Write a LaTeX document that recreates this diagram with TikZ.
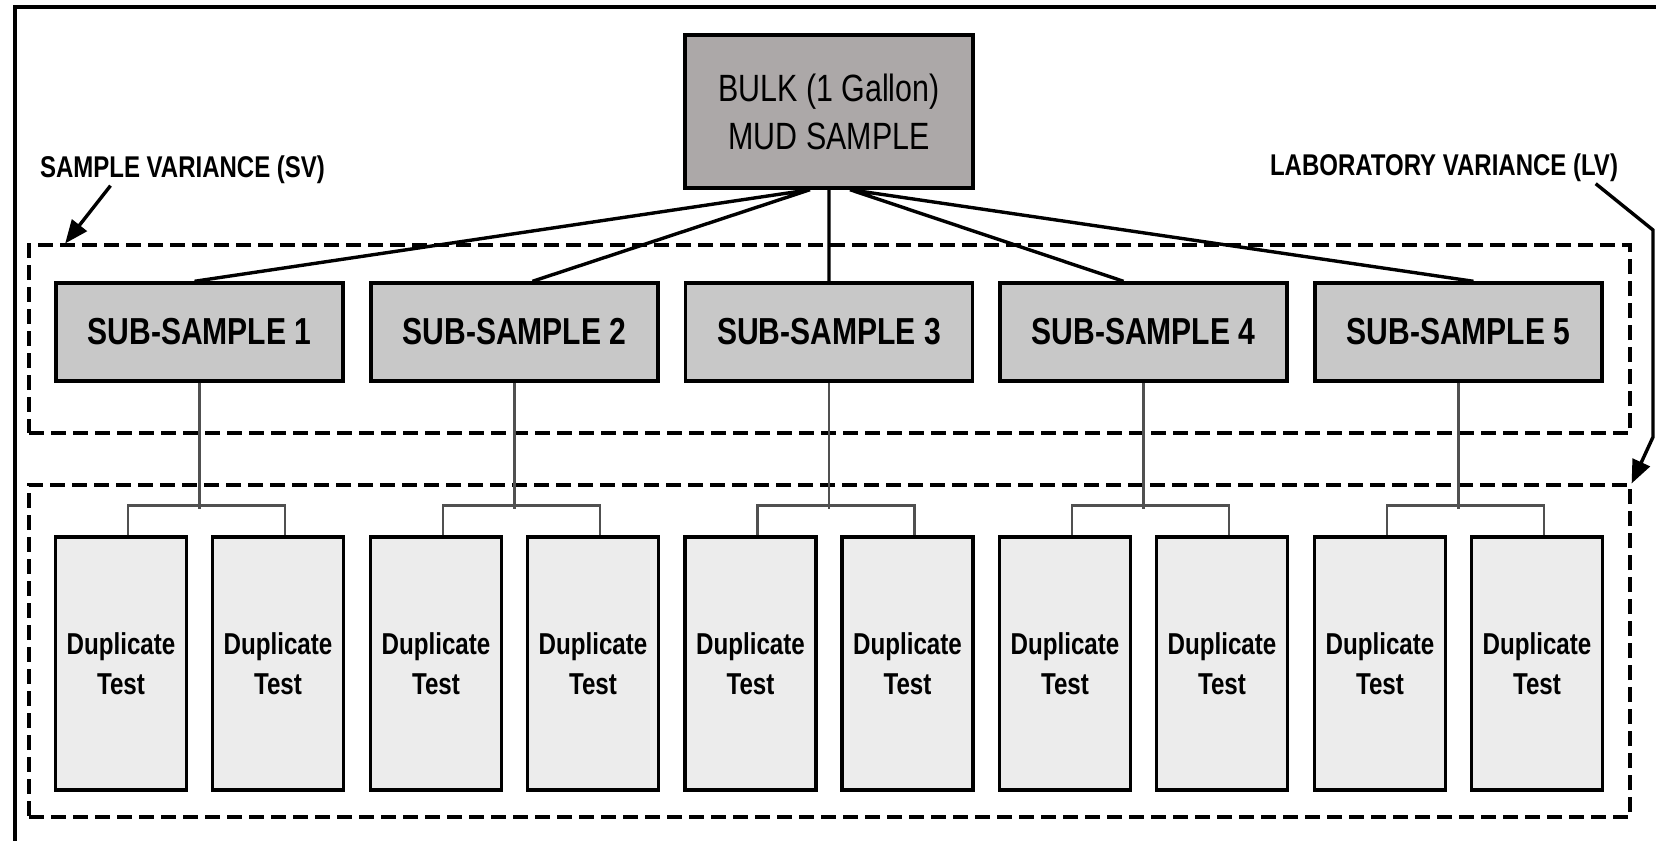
\documentclass[tikz,border=0pt]{standalone}
\usepackage{fontspec}
\setmainfont[FakeStretch=0.8]{Liberation Sans}
\usepackage{tikz}
\usetikzlibrary{arrows}
\usepackage{xcolor}
\definecolor{bulkgray}{RGB}{172,168,168}
\definecolor{subgray}{RGB}{200,200,200}
\definecolor{dupgray}{RGB}{236,236,236}
\definecolor{linkgray}{RGB}{80,80,80}

\begin{document}
\begin{tikzpicture}[x=0.5pt, y=-0.5pt, line width=1.7pt]
\tikzstyle{bulkbox} = [draw, fill=bulkgray, align=center, minimum width=144pt, minimum height=76.5pt, font=\fontsize{19}{24}\selectfont]
\tikzstyle{subbox} = [draw, fill=subgray, minimum width=143.5pt, minimum height=49pt, font=\bfseries\fontsize{18.8}{22}\selectfont]
\tikzstyle{dupbox} = [draw, fill=dupgray, align=center, minimum width=65.5pt, minimum height=126.5pt, font=\bfseries\fontsize{15.1}{20}\selectfont]
\tikzstyle{varbox} = [draw, dash pattern=on 7.5pt off 3.5pt, minimum width=800.5pt]
\tikzstyle{varlabel} = [inner sep=0pt, font=\bfseries\fontsize{15}{18}\selectfont]
\tikzstyle{link} = [linkgray, line width=1.2pt]
\useasboundingbox (0,0) rectangle (1656,841);
\draw[line width=2.2pt] (15,841) -- (15,7) -- (1656,7);
% dashed groups and their labels
\node[varbox, minimum height=94pt] (svbox) at (829.5,339) {};
\node[varbox, minimum height=166pt] (lvbox) at (829.5,651) {};
\node[varlabel] (sv) at (182.5,170) {SAMPLE VARIANCE (SV)};
\node[varlabel] (lv) at (1444,168) {LABORATORY VARIANCE (LV)};
\draw[-triangle 45] ([xshift=-36pt]sv.south) -- ([xshift=19pt]svbox.north west);
\draw[-triangle 45] ([xshift=-12pt]lv.south east) -- (1653,230) -- (1653,437) -- (lvbox.north east);
% bulk and sub-samples
\node[bulkbox] (bulk) at (829,111.5) {BULK (1 Gallon)\\MUD SAMPLE};
\node[subbox] (ss1) at (199.5,332) {SUB-SAMPLE 1};
\node[subbox] (ss2) at (514.5,332) {SUB-SAMPLE 2};
\node[subbox] (ss3) at (829,332) {SUB-SAMPLE 3};
\node[subbox] (ss4) at (1143.5,332) {SUB-SAMPLE 4};
\node[subbox] (ss5) at (1458.5,332) {SUB-SAMPLE 5};
\draw ([xshift=-9.5pt]bulk.south) -- ([xshift=-2.5pt]ss1.north)
	([xshift=-9.5pt]bulk.south) -- ([xshift=9pt]ss2.north)
	(bulk.south) -- (ss3.north)
	([xshift=10.5pt]bulk.south) -- ([xshift=-10pt]ss4.north)
	([xshift=10.5pt]bulk.south) -- ([xshift=7.5pt]ss5.north);
% duplicate tests
\node[dupbox] (d1a) at (121,663.5) {Duplicate\\Test};
\node[dupbox] (d1b) at (278,663.5) {Duplicate\\Test};
\node[dupbox] (d2a) at (436,663.5) {Duplicate\\Test};
\node[dupbox] (d2b) at (593,663.5) {Duplicate\\Test};
\node[dupbox] (d3a) at (750.5,663.5) {Duplicate\\Test};
\node[dupbox] (d3b) at (907.5,663.5) {Duplicate\\Test};
\node[dupbox] (d4a) at (1065,663.5) {Duplicate\\Test};
\node[dupbox] (d4b) at (1222,663.5) {Duplicate\\Test};
\node[dupbox] (d5a) at (1380,663.5) {Duplicate\\Test};
\node[dupbox] (d5b) at (1537,663.5) {Duplicate\\Test};
\draw[link] (ss1.south) -- ++(0,126)
	([xshift=3.5pt]d1a.north) -- ++(0,-30) -| ([xshift=3.5pt]d1b.north)
	(ss2.south) -- ++(0,126)
	([xshift=3.5pt]d2a.north) -- ++(0,-30) -| ([xshift=3.5pt]d2b.north)
	(ss3.south) -- ++(0,126)
	([xshift=3.5pt]d3a.north) -- ++(0,-30) -| ([xshift=3.5pt]d3b.north)
	(ss4.south) -- ++(0,126)
	([xshift=3.5pt]d4a.north) -- ++(0,-30) -| ([xshift=3.5pt]d4b.north)
	(ss5.south) -- ++(0,126)
	([xshift=3.5pt]d5a.north) -- ++(0,-30) -| ([xshift=3.5pt]d5b.north);
\end{tikzpicture}
\end{document}
